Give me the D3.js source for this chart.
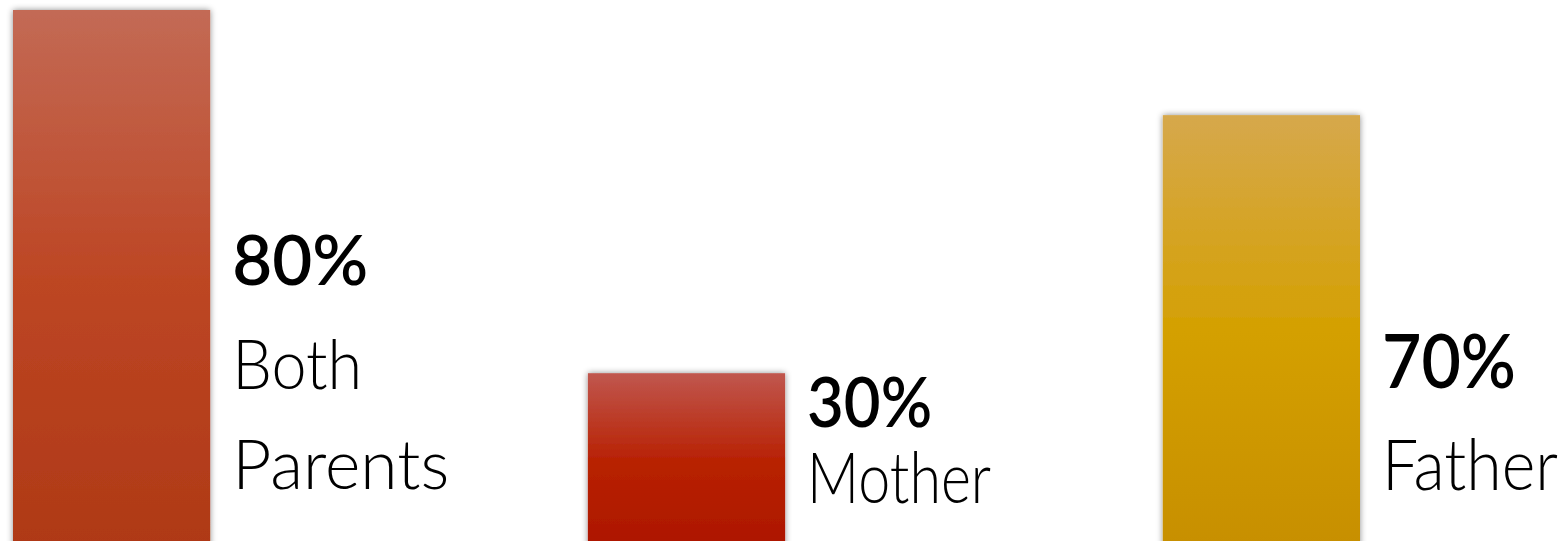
<!DOCTYPE html>
<html>
<head>
<meta charset="utf-8">
<script src="https://cdn.jsdelivr.net/npm/d3@7"></script>
<style>
  html, body { margin: 0; padding: 0; background: #fff; }
  svg { display: block; }
</style>
</head>
<body>
<svg id="chart" width="1567" height="541"></svg>
<script>
// ---- data ----
const categories = ["Both Parents", "Mother", "Father"];
const percentLabels = [80, 30, 70];
// bar heights as drawn in the picture, as % of the tallest possible bar
const barLevels = [100, 31.6, 80.2];
const nameLines = [["Both", "Parents"], ["Mother"], ["Father"]];

// ---- styles / layout ----
const gradients = [
  ["#c36a55", "#bd4624", "#af3916"],
  ["#c0574e", "#b82204", "#ad1600"],
  ["#d6a84c", "#d4a002", "#c78f00"]
];
// per-label typography (baselines, sizes, fitted widths)
const labelLayout = [
  { pctY: 285, pctSize: 69, pctW: 136, nameY: [389, 489], nameSize: 68, nameW: [130, 217] },
  { pctY: 427, pctSize: 70, pctW: 125, nameY: [503], nameSize: 70, nameW: [184] },
  { pctY: 388, pctSize: 75, pctW: 134, nameY: [490], nameSize: 71, nameW: [176] }
];

const W = 1567, H = 541;
const svg = d3.select("#chart");

const x = d3.scaleBand().domain(categories).range([13, 1360]).paddingInner(0.657).paddingOuter(0);
const y = d3.scaleLinear().domain([0, 100]).range([541, 10]);

const defs = svg.append("defs");
const f = defs.append("filter").attr("id", "shadow")
  .attr("x", "-10%").attr("y", "-10%").attr("width", "120%").attr("height", "120%");
f.append("feDropShadow").attr("dx", 0).attr("dy", 0).attr("stdDeviation", 3)
  .attr("flood-color", "#000").attr("flood-opacity", 0.45);

gradients.forEach((g, i) => {
  const lg = defs.append("linearGradient").attr("id", "grad" + i)
    .attr("x1", 0).attr("y1", 0).attr("x2", 0).attr("y2", 1);
  lg.append("stop").attr("offset", "0%").attr("stop-color", g[0]);
  lg.append("stop").attr("offset", "50%").attr("stop-color", g[1]);
  lg.append("stop").attr("offset", "100%").attr("stop-color", g[2]);
});

svg.selectAll("rect.bar").data(categories).enter().append("rect")
  .attr("class", "bar")
  .attr("x", d => x(d))
  .attr("width", x.bandwidth())
  .attr("y", (d, i) => y(barLevels[i]))
  .attr("height", (d, i) => y(0) - y(barLevels[i]) + 6)
  .attr("fill", (d, i) => `url(#grad${i})`)
  .attr("filter", "url(#shadow)");

const font = "Lato, 'Open Sans', 'DejaVu Sans', sans-serif";

categories.forEach((c, i) => {
  const L = labelLayout[i];
  const tx = x(c) + x.bandwidth() + 22;
  svg.append("text")
    .attr("x", tx).attr("y", L.pctY)
    .attr("font-family", font).attr("font-weight", 600)
    .attr("font-size", L.pctSize).attr("fill", "#000")
    .attr("textLength", L.pctW).attr("lengthAdjust", "spacingAndGlyphs")
    .text(percentLabels[i] + "%");
  nameLines[i].forEach((line, j) => {
    svg.append("text")
      .attr("x", tx).attr("y", L.nameY[j])
      .attr("font-family", font).attr("font-weight", 300)
      .attr("font-size", L.nameSize).attr("fill", "#000")
      .attr("textLength", L.nameW[j]).attr("lengthAdjust", "spacingAndGlyphs")
      .text(line);
  });
});
</script>
</body>
</html>
